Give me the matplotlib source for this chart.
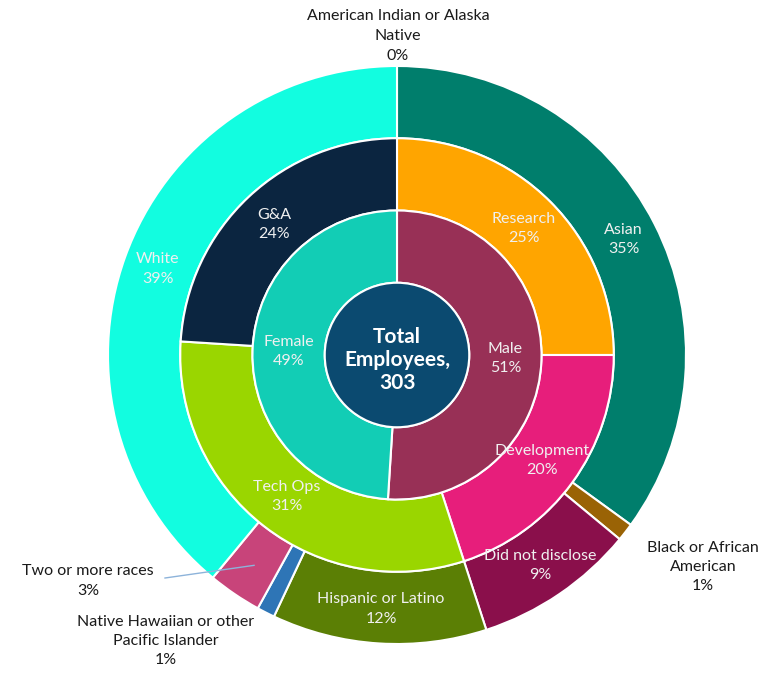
import numpy as np
import matplotlib
matplotlib.use("Agg")
import matplotlib.pyplot as plt
from matplotlib.patches import Circle

plt.rcParams['font.family'] = ['Lato', 'DejaVu Sans']

# Outer ring: ethnicity (percent of employees), clockwise from 12 o'clock
ethnicity = ["American Indian or Alaska\nNative", "Asian", "Black or African\nAmerican",
             "Did not disclose", "Hispanic or Latino", "Native Hawaiian or other\nPacific Islander",
             "Two or more races", "White"]
ethnicity_pct = [0, 35, 1, 9, 12, 1, 3, 39]
ethnicity_colors = ["#4472C4", "#007E6C", "#9A6305", "#8A0F4B", "#5B7F05", "#2E75B6",
                    "#C8447A", "#12FDE0"]

# Middle ring: function
function = ["Research", "Development", "Tech Ops", "G&A"]
function_pct = [25, 20, 31, 24]
function_colors = ["#FFA500", "#E71E7B", "#9AD600", "#0B2540"]

# Inner ring: gender
gender = ["Male", "Female"]
gender_pct = [51, 49]
gender_colors = ["#983056", "#12CDB5"]

total_employees = 303

W, H = 767, 680
CX, CY, R = 397, 355, 289  # pie centre and outer radius in pixels

fig = plt.figure(figsize=(W / 100, H / 100), dpi=100)
ax = fig.add_axes([0, 0, 1, 1])
ax.axis("off")


def px(x, y):
    return (x - CX) / R, (CY - y) / R


ring_w = 0.25
edge = dict(edgecolor="white", linewidth=1.5, width=ring_w)

ax.pie(ethnicity_pct, radius=1.0, colors=ethnicity_colors, startangle=90,
       counterclock=False, wedgeprops=edge)
ax.pie(function_pct, radius=0.75, colors=function_colors, startangle=90,
       counterclock=False, wedgeprops=edge)
ax.pie(gender_pct, radius=0.5, colors=gender_colors, startangle=90,
       counterclock=False, wedgeprops=edge)
ax.add_patch(Circle((0, 0), 0.25, facecolor="#0B4A70", edgecolor="white", linewidth=1.5))
ax.set_xlim(-CX / R, (W - CX) / R)
ax.set_ylim(-(H - CY) / R, CY / R)
ax.set_aspect("auto")


def mid_pos(values, i, r):
    frac = (sum(values[:i]) + values[i] / 2) / sum(values)
    ang = np.deg2rad(90 - frac * 360)
    return r * np.cos(ang), r * np.sin(ang)


fs = 11.5
ls = 1.5
txt = dict(ha="center", va="center", fontsize=fs, linespacing=ls)
light = "#F0F0F0"
dark = "#1A1A1A"

# labels inside the wedges
for i in (1, 3, 4, 7):
    x, y = mid_pos(ethnicity_pct, i, 0.88)
    ax.text(x, y, f"{ethnicity[i]}\n{ethnicity_pct[i]}%", color=light, **txt)
for i in range(len(function)):
    x, y = mid_pos(function_pct, i, 0.62)
    ax.text(x, y, f"{function[i]}\n{function_pct[i]}%", color=light, **txt)
for i in range(len(gender)):
    x, y = mid_pos(gender_pct, i, 0.375)
    ax.text(x, y, f"{gender[i]}\n{gender_pct[i]}%", color=light, **txt)

# labels outside the ring
ax.text(*px(398, 36), f"{ethnicity[0]}\n{ethnicity_pct[0]}%", color=dark, **txt)
ax.text(*px(703, 567), f"{ethnicity[2]}\n{ethnicity_pct[2]}%", color=dark, **txt)
ax.text(*px(166, 641), f"{ethnicity[5]}\n{ethnicity_pct[5]}%", color=dark, **txt)
ax.text(*px(88, 581), f"{ethnicity[6]}\n{ethnicity_pct[6]}%", color=dark, **txt)
lx, ly = mid_pos(ethnicity_pct, 6, 0.88)
sx, sy = px(165, 578)
ax.plot([sx, lx], [sy, ly], color="#8DB3DA", linewidth=1.0)

ax.text(0, -0.017, f"Total\nEmployees,\n{total_employees}", color="white",
        fontweight="bold", ha="center", va="center", fontsize=15, linespacing=1.2)

fig.savefig("out.png", dpi=100, facecolor="white")
